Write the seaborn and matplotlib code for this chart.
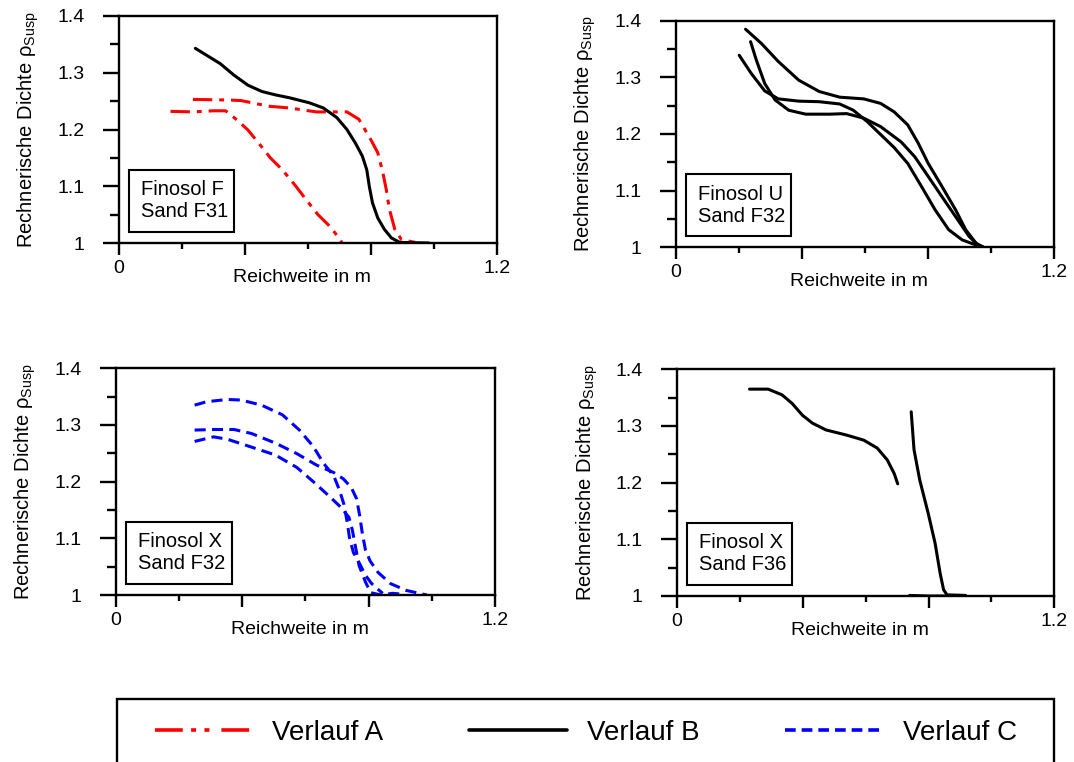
import matplotlib
matplotlib.use("Agg")
import matplotlib.pyplot as plt
import seaborn as sns
from matplotlib.lines import Line2D
from matplotlib.patches import Rectangle
from matplotlib.ticker import FixedLocator, FixedFormatter

# ---------------- data ----------------
X_MAJOR = [0.0, 0.4, 0.8, 1.2]
X_LABELS = ["0", "", "", "1.2"]
X_MINOR = [0.2, 0.6, 1.0]
Y_TICKS = [1.0, 1.1, 1.2, 1.3, 1.4]
Y_LABELS = ["1", "1.1", "1.2", "1.3", "1.4"]
Y_MINOR = [1.05, 1.15, 1.25, 1.35]

XLABEL = "Reichweite in m"
YLABEL = "Rechnerische Dichte ρ$_{\\mathrm{Susp}}$"
PANEL_LABELS = ["Finosol F\nSand F31", "Finosol U\nSand F32",
                "Finosol X\nSand F32", "Finosol X\nSand F36"]
LEGEND_LABELS = ["Verlauf A", "Verlauf B", "Verlauf C"]

# Panel 1: Finosol F / Sand F31
f31_b_x = [0.243, 0.322, 0.365, 0.410, 0.454, 0.497, 0.541, 0.605, 0.649, 0.692, 0.724,
           0.751, 0.773, 0.787, 0.795, 0.805, 0.822, 0.843, 0.865, 0.892, 0.984]
f31_b_y = [1.343, 1.316, 1.296, 1.278, 1.267, 1.261, 1.256, 1.247, 1.238, 1.221, 1.200,
           1.176, 1.153, 1.129, 1.100, 1.071, 1.044, 1.024, 1.009, 1.001, 1.000]
f31_a1_x = [0.164, 0.235, 0.301, 0.339, 0.377, 0.410, 0.454, 0.481, 0.519, 0.562, 0.595,
            0.632, 0.665, 0.686, 0.708]
f31_a1_y = [1.232, 1.231, 1.233, 1.233, 1.216, 1.199, 1.169, 1.150, 1.129, 1.100, 1.076,
            1.050, 1.032, 1.018, 1.001]
f31_a2_x = [0.235, 0.344, 0.388, 0.476, 0.541, 0.627, 0.724, 0.762, 0.800, 0.822, 0.838,
            0.849, 0.859, 0.876, 0.897, 0.941]
f31_a2_y = [1.253, 1.252, 1.251, 1.241, 1.238, 1.231, 1.231, 1.218, 1.182, 1.159, 1.124,
            1.094, 1.059, 1.024, 1.006, 1.001]

# Panel 2: Finosol U / Sand F32
f32u_b1_x = [0.222, 0.272, 0.326, 0.391, 0.456, 0.521, 0.597, 0.651, 0.694, 0.737, 0.770,
             0.802, 0.846, 0.889, 0.921, 0.954, 0.975]
f32u_b1_y = [1.385, 1.360, 1.328, 1.295, 1.275, 1.265, 1.262, 1.254, 1.239, 1.216, 1.184,
             1.148, 1.107, 1.066, 1.031, 1.007, 1.001]
f32u_b2_x = [0.238, 0.256, 0.283, 0.316, 0.359, 0.413, 0.489, 0.543, 0.597, 0.651, 0.716,
             0.759, 0.802, 0.846, 0.889, 0.932, 0.964]
f32u_b2_y = [1.363, 1.331, 1.289, 1.260, 1.242, 1.235, 1.235, 1.236, 1.228, 1.213, 1.186,
             1.160, 1.125, 1.089, 1.054, 1.019, 1.002]
f32u_b3_x = [0.202, 0.240, 0.283, 0.326, 0.391, 0.456, 0.521, 0.564, 0.608, 0.651, 0.694,
             0.737, 0.781, 0.824, 0.867, 0.910, 0.954, 0.975]
f32u_b3_y = [1.339, 1.307, 1.276, 1.262, 1.258, 1.257, 1.253, 1.242, 1.222, 1.199, 1.176,
             1.148, 1.107, 1.066, 1.031, 1.013, 1.004, 1.001]

# Panel 3: Finosol X / Sand F32
f32x_c1_x = [0.249, 0.287, 0.352, 0.396, 0.461, 0.527, 0.581, 0.625, 0.658, 0.690, 0.708,
             0.722, 0.732, 0.740, 0.752, 0.772, 0.790, 0.810, 0.830, 0.845]
f32x_c1_y = [1.335, 1.341, 1.345, 1.344, 1.335, 1.318, 1.291, 1.262, 1.232, 1.210, 1.185,
             1.160, 1.130, 1.100, 1.075, 1.055, 1.035, 1.020, 1.010, 1.003]
f32x_c2_x = [0.249, 0.309, 0.374, 0.429, 0.505, 0.571, 0.636, 0.690, 0.720, 0.745, 0.762,
             0.772, 0.780, 0.790, 0.805, 0.830, 0.870, 0.920, 0.960, 0.985]
f32x_c2_y = [1.291, 1.292, 1.292, 1.285, 1.268, 1.250, 1.229, 1.216, 1.205, 1.190, 1.170,
             1.140, 1.110, 1.080, 1.060, 1.040, 1.020, 1.008, 1.003, 1.000]
f32x_c3_x = [0.249, 0.309, 0.352, 0.418, 0.505, 0.573, 0.627, 0.680, 0.712, 0.738, 0.749,
             0.760, 0.770, 0.791, 0.807, 0.840, 0.876, 0.914]
f32x_c3_y = [1.271, 1.279, 1.275, 1.263, 1.247, 1.225, 1.199, 1.172, 1.155, 1.137, 1.114,
             1.081, 1.052, 1.022, 1.004, 1.000, 1.003, 1.001]

# Panel 4: Finosol X / Sand F36
f36_b1_x = [0.231, 0.290, 0.334, 0.366, 0.399, 0.431, 0.474, 0.539, 0.594, 0.637, 0.669,
            0.691, 0.702]
f36_b1_y = [1.365, 1.365, 1.355, 1.340, 1.319, 1.305, 1.293, 1.284, 1.275, 1.261, 1.240,
            1.216, 1.198]
f36_b2_x = [0.745, 0.754, 0.772, 0.799, 0.821, 0.837, 0.848, 0.859, 0.918]
f36_b2_y = [1.325, 1.258, 1.205, 1.146, 1.093, 1.040, 1.011, 1.002, 1.001]
f36_b3_x = [0.740, 0.800, 0.859, 0.900]
f36_b3_y = [1.001, 1.000, 1.000, 1.001]

# ---------------- style ----------------
sns.set_theme(style="white")
plt.rcParams['font.family'] = ['Liberation Sans', 'DejaVu Sans']
plt.rcParams['mathtext.fontset'] = 'custom'
plt.rcParams['mathtext.rm'] = 'Liberation Sans'
plt.rcParams['mathtext.it'] = 'Liberation Sans:italic'
plt.rcParams['mathtext.bf'] = 'Liberation Sans:bold'
plt.rcParams['lines.scale_dashes'] = False
for k in ['text.color', 'axes.labelcolor', 'xtick.color', 'ytick.color', 'axes.edgecolor']:
    plt.rcParams[k] = 'black'

RED = '#ff0000'
BLUE = '#0000ff'
BLACK = '#000000'
LS_A = (0, (14, 5, 3.5, 5))
LS_C = (0, (8, 4.5))
LW = 2.2

W, H = 1074, 762
fig = plt.figure(figsize=(W / 100, H / 100), dpi=100)
fig.patch.set_facecolor('white')


def box(l, r, t, b):
    return [l / W, 1 - b / H, (r - l) / W, (b - t) / H]


positions = [
    box(118.8, 496.9, 16.0, 243.0),
    box(675.6, 1053.6, 20.7, 247.3),
    box(116.0, 494.8, 368.3, 595.0),
    box(676.9, 1054.3, 369.3, 596.0),
]
axes = [fig.add_axes(p) for p in positions]


def draw(ax, xs, ys, color, ls='-'):
    sns.lineplot(x=xs, y=ys, ax=ax, color=color, linewidth=LW, linestyle=ls,
                 sort=False, estimator=None, legend=False)


def setup(ax, label):
    ax.set_xlim(0, 1.2)
    ax.set_ylim(1.0, 1.4)
    ax.set_facecolor('white')
    ax.xaxis.set_major_locator(FixedLocator(X_MAJOR))
    ax.xaxis.set_major_formatter(FixedFormatter(X_LABELS))
    ax.xaxis.set_minor_locator(FixedLocator(X_MINOR))
    ax.yaxis.set_major_locator(FixedLocator(Y_TICKS))
    ax.yaxis.set_major_formatter(FixedFormatter(Y_LABELS))
    ax.yaxis.set_minor_locator(FixedLocator(Y_MINOR))
    for s in ax.spines.values():
        s.set_visible(True)
        s.set_linewidth(1.7)
        s.set_color('black')
    ax.tick_params(axis='y', which='major', direction='out', length=11.7, width=1.7,
                   pad=13, labelsize=14, left=True)
    ax.tick_params(axis='y', which='minor', direction='out', length=6.2, width=1.7, left=True)
    ax.tick_params(axis='x', which='major', direction='out', length=8.6, width=1.7,
                   pad=3.5, labelsize=14, bottom=True)
    ax.tick_params(axis='x', which='minor', direction='out', length=4.3, width=1.7, bottom=True)
    ax.set_xlabel(XLABEL, fontsize=14)
    ax.xaxis.set_label_coords(0.485, -0.115)
    ax.set_ylabel(YLABEL, fontsize=14.5)
    ax.yaxis.set_label_coords(-0.205, 0.5)
    ax.add_patch(Rectangle((0.027, 0.05), 0.279, 0.273, transform=ax.transAxes,
                           fc='white', ec='black', lw=1.5, zorder=5))
    ax.text(0.059, 0.186, label, transform=ax.transAxes, fontsize=14.5, ha='left',
            va='center', linespacing=1.2, zorder=6)


# Panel 1
draw(axes[0], f31_a1_x, f31_a1_y, RED, LS_A)
draw(axes[0], f31_a2_x, f31_a2_y, RED, LS_A)
draw(axes[0], f31_b_x, f31_b_y, BLACK)
# Panel 2
draw(axes[1], f32u_b1_x, f32u_b1_y, BLACK)
draw(axes[1], f32u_b2_x, f32u_b2_y, BLACK)
draw(axes[1], f32u_b3_x, f32u_b3_y, BLACK)
# Panel 3
draw(axes[2], f32x_c1_x, f32x_c1_y, BLUE, LS_C)
draw(axes[2], f32x_c2_x, f32x_c2_y, BLUE, LS_C)
draw(axes[2], f32x_c3_x, f32x_c3_y, BLUE, LS_C)
# Panel 4
draw(axes[3], f36_b1_x, f36_b1_y, BLACK)
draw(axes[3], f36_b2_x, f36_b2_y, BLACK)
draw(axes[3], f36_b3_x, f36_b3_y, BLACK)

for ax, lab in zip(axes, PANEL_LABELS):
    setup(ax, lab)

# Legend
handles = [
    Line2D([], [], color=RED, lw=2.6, linestyle=(0, (20, 6, 3.6, 6, 3.6, 8.6))),
    Line2D([], [], color=BLACK, lw=2.6),
    Line2D([], [], color=BLUE, lw=2.6, linestyle=(0, (7.7, 4.3))),
]
fig.legend(handles, LEGEND_LABELS, loc='center left', bbox_to_anchor=(155 / W, 1 - 733 / H),
           ncol=3, frameon=False, fontsize=20, handlelength=3.5, handletextpad=0.72,
           columnspacing=3.1, borderpad=0, borderaxespad=0)
fig.add_artist(Rectangle((117.3 / W, -0.02), (1053.5 - 117.3) / W, 1 - 699.3 / H + 0.02,
                         transform=fig.transFigure, fill=False, ec='black', lw=1.7))

fig.savefig('out.png', dpi=100, facecolor='white')
